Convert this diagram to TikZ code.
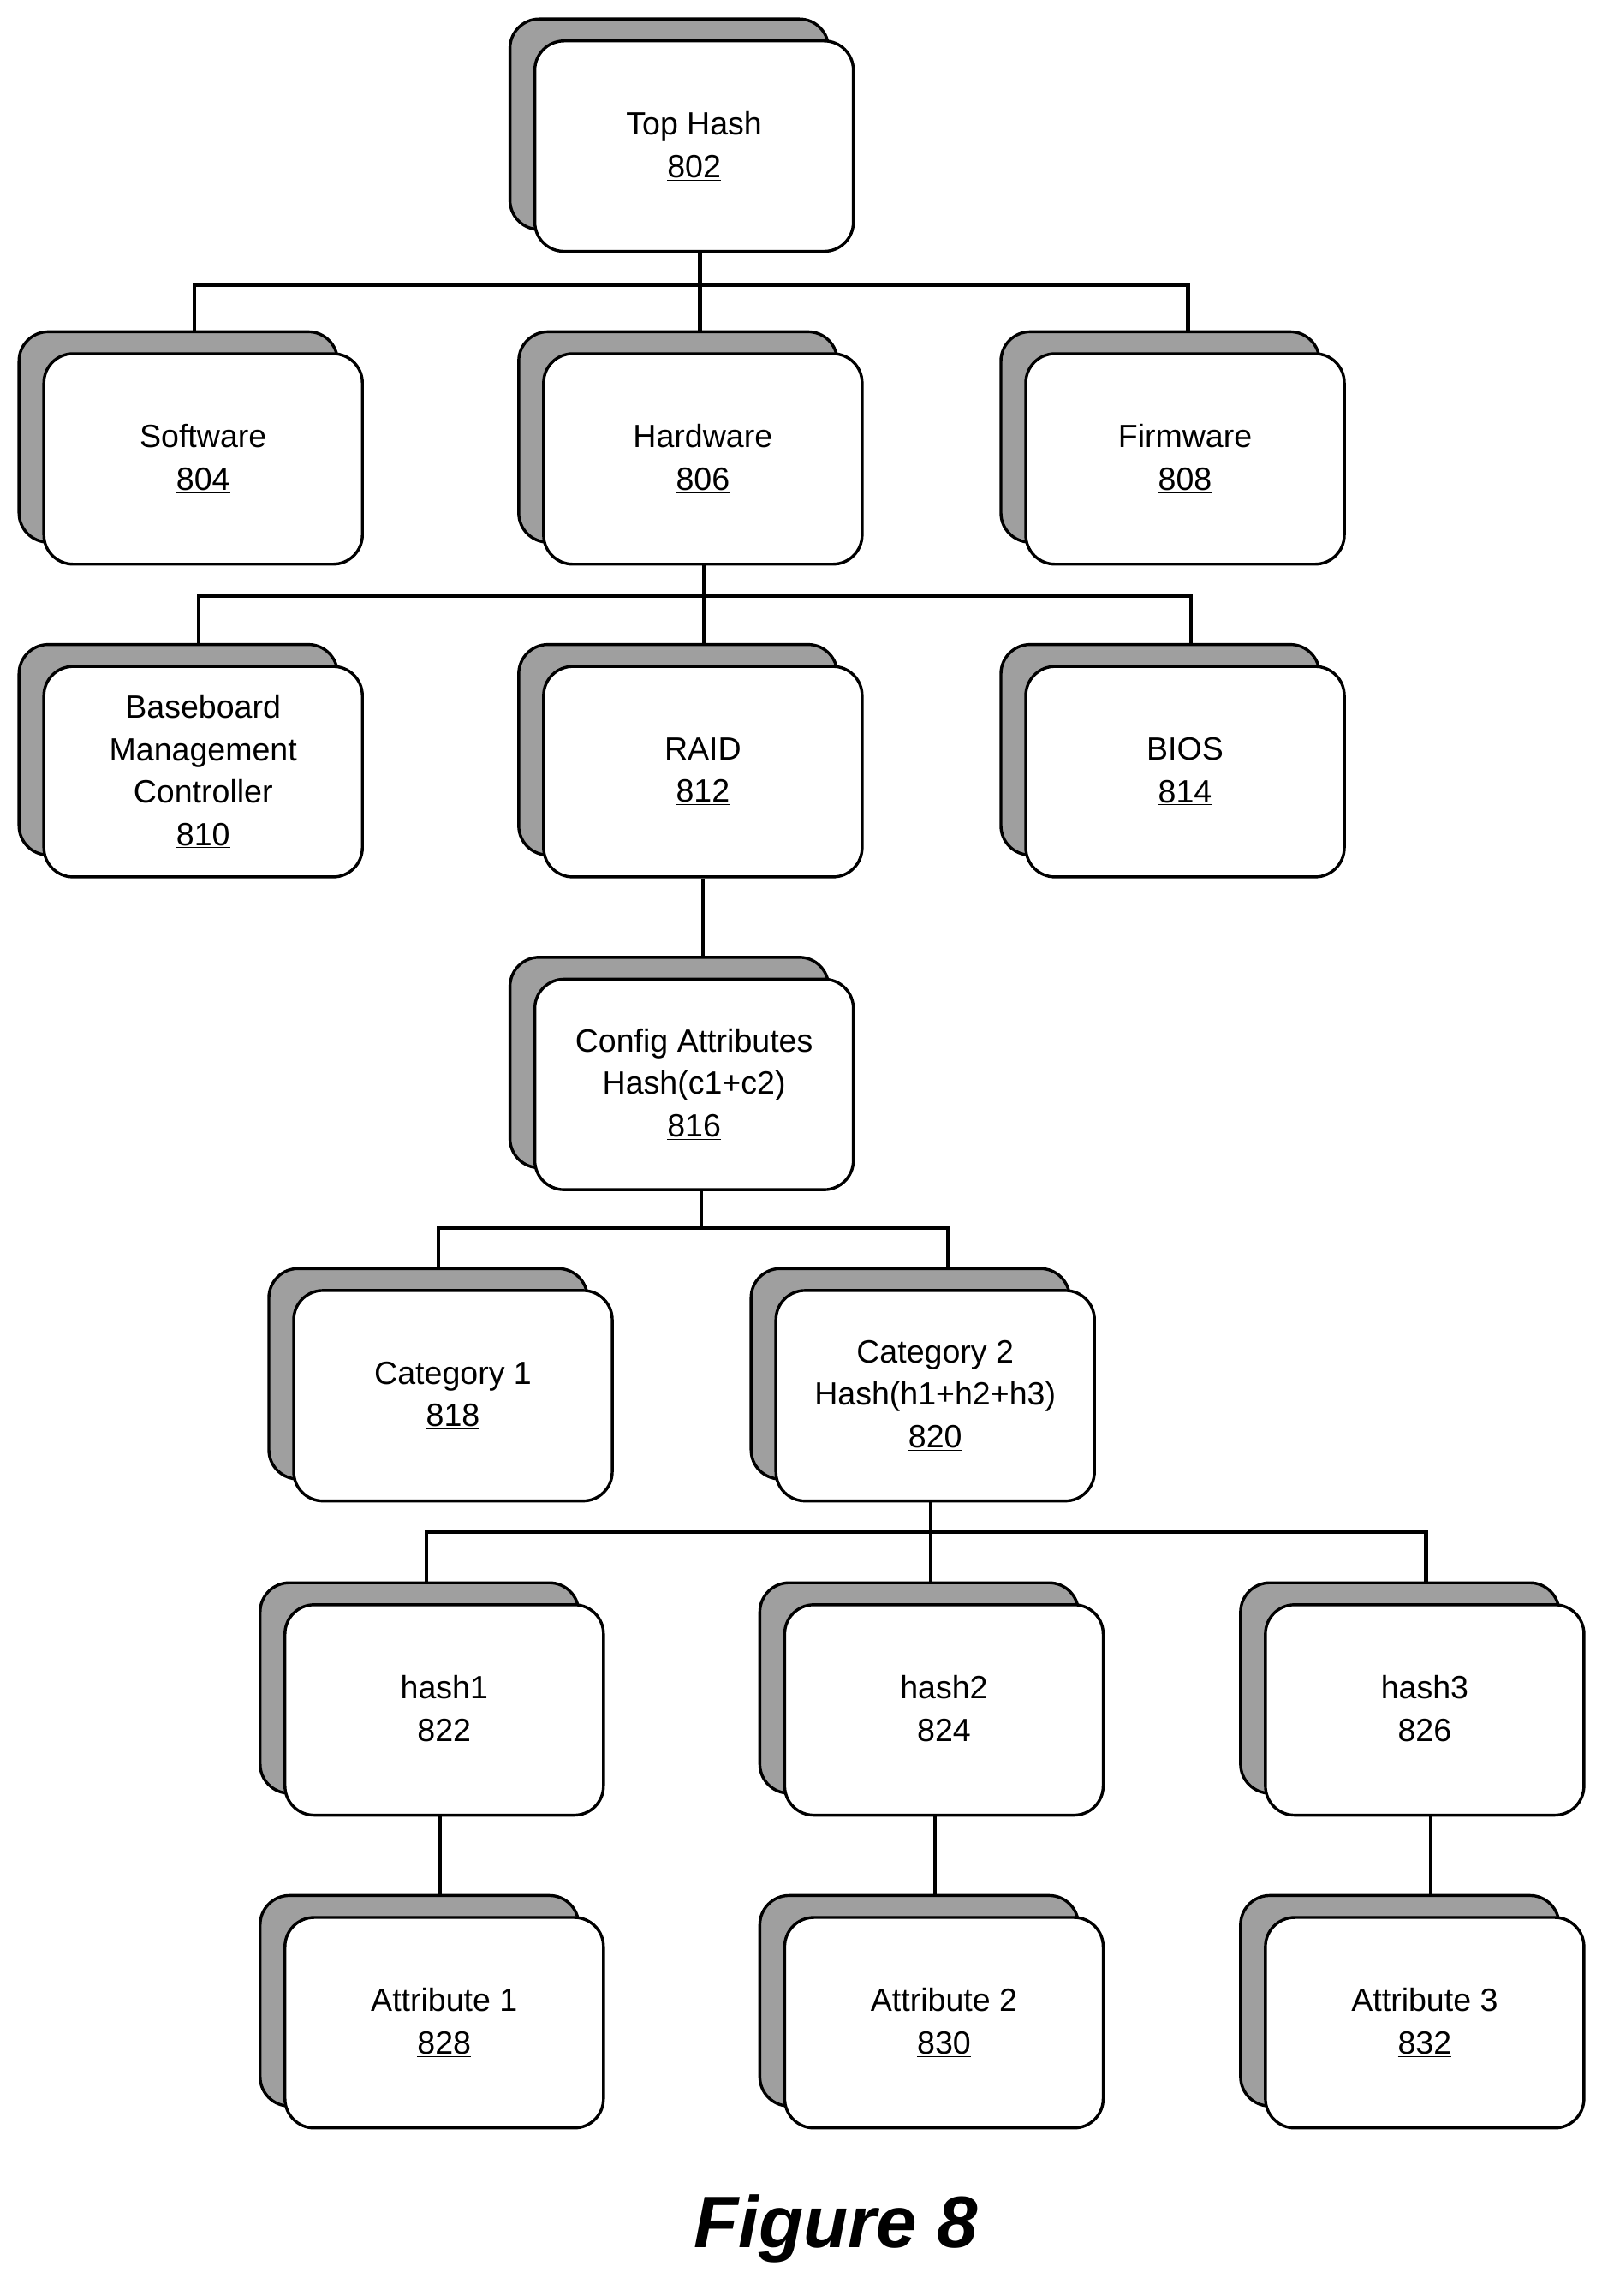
\documentclass[tikz,border=0pt]{standalone}
\usepackage{fontspec}
\setmainfont{Liberation Sans}
\begin{document}
\begin{tikzpicture}[x=1pt,y=-1pt,
  box/.style={draw=black,line width=2pt,fill=white,rounded corners=20pt,minimum width=218pt,minimum height=144pt,align=center,font=\fontsize{22}{29}\selectfont,inner sep=0pt},
  shd/.style={draw=black,line width=2pt,fill=gray!75,rounded corners=20pt,minimum width=218pt,minimum height=144pt},
  ln/.style={line width=2.5pt}]
\useasboundingbox (0,0) rectangle (1100,1571);
\newcommand\bx[4]{\node[shd] at (#2-17,#3-15) {};\node[box] (#1) at (#2,#3) {#4};}
\bx{top}{475}{100}{Top Hash\\\underline{802}}
\bx{sw}{139}{314}{Software\\\underline{804}}
\bx{hw}{481}{314}{Hardware\\\underline{806}}
\bx{fw}{811}{314}{Firmware\\\underline{808}}
\bx{bmc}{139}{528}{Baseboard\\Management\\Controller\\\underline{810}}
\bx{raid}{481}{528}{RAID\\\underline{812}}
\bx{bios}{811}{528}{BIOS\\\underline{814}}
\bx{cfg}{475}{742}{Config Attributes\\Hash(c1+c2)\\\underline{816}}
\bx{c1}{310}{955}{Category 1\\\underline{818}}
\bx{c2}{640}{955}{Category 2\\Hash(h1+h2+h3)\\\underline{820}}
\bx{h1}{304}{1170}{hash1\\\underline{822}}
\bx{h2}{646}{1170}{hash2\\\underline{824}}
\bx{h3}{975}{1170}{hash3\\\underline{826}}
\bx{a1}{304}{1384}{Attribute 1\\\underline{828}}
\bx{a2}{646}{1384}{Attribute 2\\\underline{830}}
\bx{a3}{975}{1384}{Attribute 3\\\underline{832}}
% connectors
\coordinate (j1) at (479,195);
\draw[ln] (479,172) -- (j1);
\draw[ln] (133,227) -- (133,195) -- (813,195) -- (813,227);
\draw[ln] (j1) -- (479,227);
\draw[ln] (482,386) -- (482,441);
\draw[ln] (136,441) -- (136,408) -- (815,408) -- (815,441);
\draw[ln] (raid.south) -- (481,655);
\draw[ln] (480,814) -- (480,840);
\draw[ln] (300,868) -- (300,840) -- (649,840) -- (649,868);
\draw[ln] (637,1027) -- (637,1083);
\draw[ln] (292,1083) -- (292,1048) -- (976,1048) -- (976,1083);
\draw[ln] (301,1242) -- (301,1297);
\draw[ln] (640,1242) -- (640,1297);
\draw[ln] (979,1242) -- (979,1297);
\node[font=\fontsize{50}{60}\selectfont\bfseries\itshape] (fig) at (572,1525) {Figure 8};
\end{tikzpicture}
\end{document}
